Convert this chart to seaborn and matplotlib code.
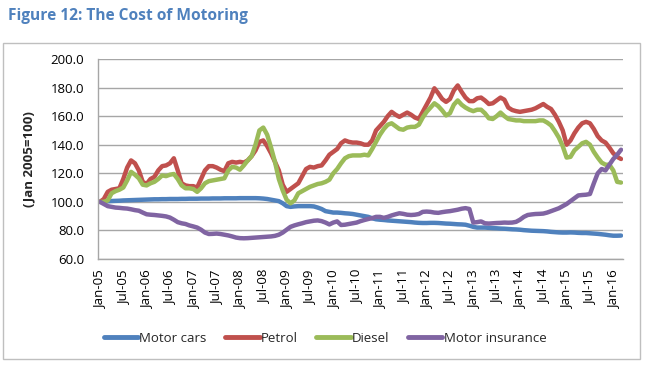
import matplotlib
import numpy as np
import pandas as pd

matplotlib.use("Agg")
import matplotlib.pyplot as plt  # noqa: E402
import seaborn as sns  # noqa: E402
from matplotlib.lines import Line2D  # noqa: E402
from matplotlib.patches import Rectangle  # noqa: E402

# Monthly index values, Jan-05 .. Mar-16 (Jan 2005 = 100)
SERIES = ["Motor cars", "Petrol", "Diesel", "Motor insurance"]
COLORS = ["#4F81BD", "#C0504D", "#9BBB59", "#8064A2"]

TICK_LABELS = ["Jan-05", "Jul-05", "Jan-06", "Jul-06", "Jan-07", "Jul-07",
               "Jan-08", "Jul-08", "Jan-09", "Jul-09", "Jan-10", "Jul-10",
               "Jan-11", "Jul-11", "Jan-12", "Jul-12", "Jan-13", "Jul-13",
               "Jan-14", "Jul-14", "Jan-15", "Jul-15", "Jan-16"]

motor_cars = [
    100, 100.2, 100.4, 100.6, 100.7, 100.8, 101, 101.1, 101.2, 101.3,
    101.4, 101.5, 101.6, 101.7, 101.8, 101.8, 101.9, 101.9, 102, 102,
    102, 102.1, 102.1, 102.2, 102.2, 102.2, 102.3, 102.3, 102.3, 102.4,
    102.4, 102.4, 102.5, 102.5, 102.5, 102.5, 102.6, 102.6, 102.6, 102.6,
    102.6, 102.5, 102.3, 102, 101.5, 101, 100.5, 99, 97, 96.5,
    96.8, 97, 97, 97, 97, 96.8, 96, 95, 93.5, 93,
    92.5, 92.5, 92.3, 92, 91.8, 91.5, 91, 90.5, 90, 89.5,
    88.5, 87.8, 87.5, 87.3, 87, 86.8, 86.6, 86.4, 86.2, 86,
    85.8, 85.5, 85.3, 85.2, 85.2, 85.3, 85.3, 85.2, 85, 84.8,
    84.7, 84.5, 84.3, 84.2, 84, 83.3, 82.5, 82, 82, 82,
    81.8, 81.6, 81.5, 81.3, 81.2, 81, 80.8, 80.7, 80.5, 80.2,
    80, 79.8, 79.7, 79.6, 79.5, 79.3, 79, 78.8, 78.6, 78.5,
    78.5, 78.6, 78.5, 78.3, 78.2, 78.2, 78, 77.8, 77.6, 77.3,
    77, 76.6, 76.3, 76.3, 76.4,
]

petrol = [
    100, 102, 107, 108.5, 109, 109.5, 116, 124, 129, 127,
    122, 114, 112.5, 116, 117.5, 122, 125, 125.5, 127, 130.5,
    122, 113, 111.5, 111, 111, 110, 116, 122, 125, 125,
    124, 122.5, 121.5, 127, 128, 127.5, 128, 127.5, 129, 132,
    136, 142, 143, 139, 134, 128, 122, 112, 107, 109,
    111, 113, 118, 123, 124.5, 124, 125, 125.5, 129, 133,
    135, 137, 141, 143, 142, 141.5, 141.5, 141, 140, 140,
    143, 150, 153, 156, 160, 163, 161, 159.5, 161, 162.5,
    161, 159, 158, 163, 168, 173, 179.5, 176, 172, 170,
    172, 178, 181.5, 177, 173, 170.5, 170.5, 172.5, 173, 171,
    168.5, 169, 171, 173, 171.5, 166, 164.3, 163.5, 163, 163.5,
    164, 164.5, 165.5, 167, 168.5, 166.5, 165, 161, 156, 150,
    140, 143, 148, 152, 155, 156, 155, 151, 146, 143,
    141.5, 138, 134, 131.5, 130,
]

diesel = [
    100, 100, 101, 106, 107.5, 108.5, 110, 115, 121, 119,
    116.5, 112, 111.5, 113, 114, 116, 118.5, 118, 119, 119.5,
    116, 111.5, 109.5, 109.5, 109, 107, 109.5, 113, 114.5, 115,
    115.5, 116, 116.5, 122, 124.5, 124, 122.5, 125.5, 129, 132,
    140, 150, 152, 147, 138, 128, 116, 108, 101.5, 99,
    101, 106, 107.5, 109, 110.5, 111.5, 112.5, 113, 114, 115.5,
    120, 123, 127, 130.5, 132, 132.5, 132.5, 132.5, 133, 132.5,
    137, 142, 147, 151, 154, 155, 153, 151, 150.5, 152,
    152.5, 152.5, 154, 159, 163, 166, 169, 167, 164, 160.5,
    162, 168, 171, 168, 166, 164.5, 163.5, 164.5, 164.5, 162,
    158.5, 158, 160, 162.5, 160, 158, 157.5, 157, 157, 156.5,
    156.5, 156.5, 156.5, 157, 157, 155.5, 153.5, 149.5, 145, 139,
    131, 131.5, 136, 138.5, 141, 142, 140, 135, 131, 127.5,
    126, 126, 122, 114, 113.5,
]

motor_insurance = [
    100, 98.5, 97, 96.5, 96, 95.8, 95.5, 95.3, 94.8, 94.2,
    93.8, 92.5, 91.3, 91, 90.8, 90.5, 90.2, 89.8, 89, 87.5,
    85.8, 85, 84.5, 83.5, 82.8, 82, 80.5, 78.5, 77.5, 77.6,
    77.8, 77.5, 77, 76.5, 75.8, 75, 74.6, 74.5, 74.6, 74.8,
    75, 75.2, 75.4, 75.6, 75.8, 76.2, 77, 78.5, 80.5, 82.5,
    83.5, 84.3, 85, 85.8, 86.3, 86.8, 87, 86.5, 85.5, 84.2,
    85.5, 86.3, 83.8, 84, 84.5, 85, 85.5, 86.5, 87.3, 88,
    88.6, 89.5, 89.5, 88.8, 89.5, 90.5, 91.3, 92, 91.6, 91,
    90.8, 91, 91.5, 93, 93.2, 93, 92.5, 92.3, 92.8, 93.2,
    93.5, 94, 94.5, 95.2, 95.6, 95, 85.5, 85.8, 86.3, 85,
    84.8, 85, 85.2, 85.3, 85.5, 85.4, 85.5, 86, 87.5, 89.5,
    90.8, 91.2, 91.5, 91.6, 91.8, 92.5, 93.5, 94.5, 95.5, 97,
    98.5, 100.5, 102.5, 104.5, 104.8, 105, 105.5, 113, 120, 123,
    122, 126, 130, 133, 136.5,
]

n = len(motor_cars)
df = pd.DataFrame({
    "month": np.arange(n),
    "Motor cars": motor_cars,
    "Petrol": petrol,
    "Diesel": diesel,
    "Motor insurance": motor_insurance,
}).melt(id_vars="month", var_name="series", value_name="value")

sns.set_theme(style="white")
plt.rcParams["font.family"] = ["Open Sans", "DejaVu Sans"]

W, H = 650, 365
fig = plt.figure(figsize=(W / 100, H / 100), dpi=100)
ax = fig.add_axes([98 / W, 1 - 259 / H, 525 / W, 200 / H])

sns.lineplot(data=df, x="month", y="value", hue="series", hue_order=SERIES,
             palette=COLORS, lw=3.2, legend=False, ax=ax,
             solid_capstyle="round", solid_joinstyle="round")

# Excel-style category axis: points sit between the tick marks
ax.set_xlim(-0.5, n - 0.5)
ax.set_ylim(60, 200)
ax.set_xticks(np.arange(0, 6 * len(TICK_LABELS), 6))
ax.set_xticklabels(TICK_LABELS, rotation=90, fontsize=9.5)
ax.set_yticks(np.arange(60, 201, 20))
ax.set_yticklabels([f"{v:.1f}" for v in range(60, 201, 20)], fontsize=9.5)
ax.tick_params(axis="both", length=0, colors="#000000")
ax.tick_params(axis="x", pad=8)
ax.tick_params(axis="y", pad=10)

ax.set_xlabel("")
ax.set_ylabel("(Jan 2005=100)", fontsize=9.5, fontweight="bold")
ax.yaxis.set_label_coords(-0.12, 0.5)

ax.yaxis.grid(True, color="#A6A6A6", lw=1)
ax.xaxis.grid(False)
for side in ["top", "right"]:
    ax.spines[side].set_visible(False)
for side in ["left", "bottom"]:
    ax.spines[side].set_color("#A6A6A6")
    ax.spines[side].set_linewidth(1)

handles = [Line2D([0], [0], color=c, lw=3.5, solid_capstyle="round") for c in COLORS]
fig.legend(handles, SERIES, loc="center", bbox_to_anchor=(0.5, 1 - 338 / H),
           ncol=4, frameon=False, fontsize=9.5, handlelength=2.6,
           handletextpad=0.1, columnspacing=1.4)

fig.text(8 / W, 1 - 16 / H, "Figure 12: The Cost of Motoring", ha="left",
         va="center", fontsize=11.2, fontweight="bold", color="#4F81BD")

fig.patches.append(Rectangle((3 / W, 1 - 359 / H), 637 / W, 316 / H,
                             transform=fig.transFigure, fill=False,
                             ec="#BFBFBF", lw=1))

fig.savefig("out.png", dpi=100)
plt.close(fig)
